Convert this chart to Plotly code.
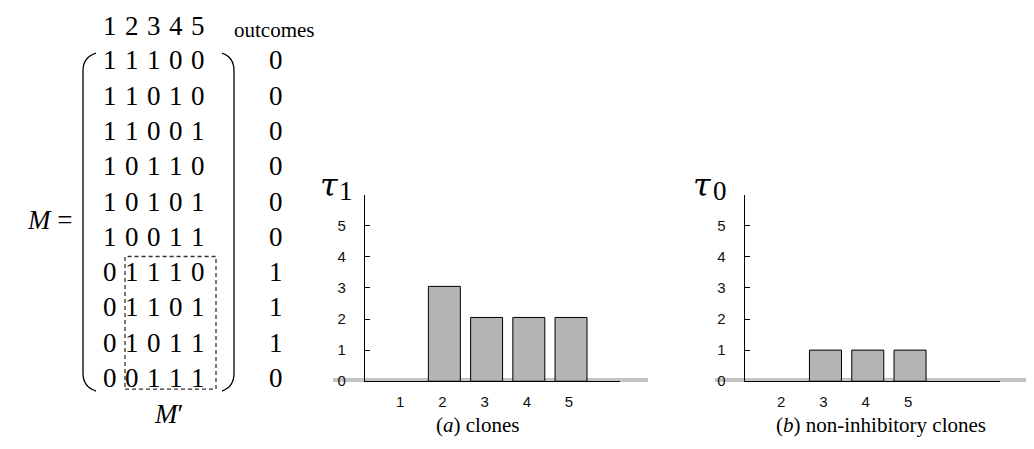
import plotly.graph_objects as go

# ---------------- data ----------------
col_labels = ["1", "2", "3", "4", "5"]
M_rows = [
    [1, 1, 1, 0, 0],
    [1, 1, 0, 1, 0],
    [1, 1, 0, 0, 1],
    [1, 0, 1, 1, 0],
    [1, 0, 1, 0, 1],
    [1, 0, 0, 1, 1],
    [0, 1, 1, 1, 0],
    [0, 1, 1, 0, 1],
    [0, 1, 0, 1, 1],
    [0, 0, 1, 1, 1],
]
outcomes = [0, 0, 0, 0, 0, 0, 1, 1, 1, 0]

cats_a = [1, 2, 3, 4, 5]
tau1 = [0, 3.05, 2.05, 2.05, 2.05]
cats_b = [2, 3, 4, 5]
tau0 = [0, 1, 1, 1]
y_ticks = [0, 1, 2, 3, 4, 5, 6]
y_ticktext = ["0", "1", "2", "3", "4", "5", ""]

caption_a = "(<i>a</i>) clones"
caption_b = "(<i>b</i>) non-inhibitory clones"

# ---------------- layout helpers ----------------
W, H = 1034, 449


def px(x):
    return x / W


def py(y):
    return 1 - y / H


SERIF = "Liberation Serif, Times New Roman, serif"
SANS = "Liberation Sans, Arial, sans-serif"
BAR_FILL = "#b4b4b4"

fig = go.Figure()
fig.add_trace(go.Bar(x=cats_a, y=tau1, width=0.757,
                     marker=dict(color=BAR_FILL, line=dict(color="black", width=[1 if v > 0 else 0 for v in tau1])),
                     xaxis="x", yaxis="y", showlegend=False))
fig.add_trace(go.Bar(x=cats_b, y=tau0, width=0.757,
                     marker=dict(color=BAR_FILL, line=dict(color="black", width=[1 if v > 0 else 0 for v in tau0])),
                     xaxis="x2", yaxis="y2", showlegend=False))

ydom = [py(380), py(190)]
common_x = dict(showline=True, linecolor="black", linewidth=1.3, showgrid=False, zeroline=False,
                ticks="", tickfont=dict(family=SANS, size=15, color="#111"), ticklabelstandoff=7,
                ticklabelshift=-2)
common_y = dict(showline=True, linecolor="black", linewidth=1.3, showgrid=False, zeroline=False,
                range=[0, 6], tickvals=y_ticks, ticktext=y_ticktext, ticks="inside", ticklen=5,
                tickcolor="black", tickwidth=1.2, tickfont=dict(family=SANS, size=15, color="#111"),
                ticklabelstandoff=15)

fig.update_layout(
    width=W, height=H, autosize=False,
    margin=dict(l=0, r=0, t=0, b=0),
    paper_bgcolor="white", plot_bgcolor="rgba(0,0,0,0)",
    xaxis=dict(domain=[px(357), px(612)], anchor="y", range=[0.12, 6.16],
               tickvals=cats_a, ticktext=[str(c) for c in cats_a], **common_x),
    yaxis=dict(domain=ydom, anchor="x", **common_y),
    xaxis2=dict(domain=[px(736.7), px(991.7)], anchor="y2", range=[1.09, 7.12],
                tickvals=cats_b, ticktext=[str(c) for c in cats_b], **common_x),
    yaxis2=dict(domain=ydom, anchor="x2", **common_y),
)

shapes = []
# gray baselines behind the x axes
shapes.append(dict(type="line", xref="paper", yref="paper", x0=px(325), x1=px(640), y0=py(378.7), y1=py(378.7),
                   line=dict(color="#c4c4c4", width=4), layer="below"))
shapes.append(dict(type="line", xref="paper", yref="paper", x0=px(707), x1=px(1034), y0=py(378.7), y1=py(378.7),
                   line=dict(color="#c4c4c4", width=4), layer="below"))
# matrix parentheses
lp = (f"M {px(88)} {py(46)} Q {px(75)} {py(50)} {px(75)} {py(64)} L {px(75)} {py(372)} "
      f"Q {px(75)} {py(386)} {px(88)} {py(390)}")
rp = (f"M {px(214)} {py(46)} Q {px(226)} {py(50)} {px(226)} {py(64)} L {px(226)} {py(372)} "
      f"Q {px(226)} {py(386)} {px(214)} {py(390)}")
for p in (lp, rp):
    shapes.append(dict(type="path", xref="paper", yref="paper", path=p, line=dict(color="black", width=1.3)))
# dashed sub-matrix box
shapes.append(dict(type="rect", xref="paper", yref="paper", x0=px(117), x1=px(208), y0=py(388), y1=py(253),
                   line=dict(color="#333", width=1.3, dash="4px,3px")))

ann = []


def text(x, y, s, size, family=SERIF, color="black", xanchor="center"):
    ann.append(dict(x=px(x), y=py(y), xref="paper", yref="paper", text=s, showarrow=False,
                    font=dict(family=family, size=size, color=color), xanchor=xanchor, yanchor="middle"))


col_x0, col_dx = 102, 22
row_y0, row_dy = 53.3, 35.93
for j, c in enumerate(col_labels):
    text(col_x0 + col_dx * j, 18.3, c, 27)
text(266, 22, "outcomes", 21)
for i, row in enumerate(M_rows):
    for j, v in enumerate(row):
        text(col_x0 + col_dx * j, row_y0 + row_dy * i, str(v), 27)
    text(268, row_y0 + row_dy * i, str(outcomes[i]), 27)
text(66, 216, "<i>M</i> =", 27, xanchor="right")
text(160, 413, "<i>M</i>′", 27)

# tau labels
TAU_FONT = "DejaVu Serif, serif"
text(321, 180, "<i>τ</i>", 32, family=TAU_FONT)
text(338, 186, "1", 27)
text(694, 180, "<i>τ</i>", 32, family=TAU_FONT)
text(711.5, 186, "0", 27)

# captions
text(469, 425, caption_a, 21)
text(873, 425, caption_b, 21)

fig.update_layout(shapes=shapes, annotations=ann)
fig.write_html("out.html")
